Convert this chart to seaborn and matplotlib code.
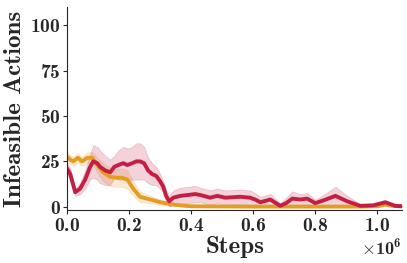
import matplotlib
matplotlib.use("Agg")
import matplotlib.pyplot as plt
import numpy as np
import pandas as pd
import seaborn as sns

# steps in units of 1e6
red_steps = [0.000, 0.010, 0.026, 0.042, 0.058, 0.074, 0.084, 0.097, 0.106, 0.123,
             0.139, 0.152, 0.165, 0.181, 0.194, 0.210, 0.223, 0.235, 0.248, 0.261,
             0.274, 0.287, 0.300, 0.310, 0.319, 0.329, 0.342, 0.365, 0.390, 0.413,
             0.429, 0.461, 0.484, 0.510, 0.558, 0.590, 0.606, 0.623, 0.655, 0.687,
             0.706, 0.726, 0.752, 0.774, 0.800, 0.826, 0.865, 0.903, 0.945, 0.987,
             1.026, 1.058, 1.081]
red_mean = [21, 18, 8, 10, 15, 22, 25, 24, 22, 20,
            19, 22, 23, 24, 23, 24, 25, 25, 24, 20,
            18, 17, 14, 11, 6, 3, 5, 6, 6.5, 7,
            6.5, 5, 6, 5, 5.5, 5, 4, 2.5, 4, 0.5,
            2, 4.5, 4, 4.5, 2, 3.5, 6, 3, 0.5, 0.8,
            2.5, 0.5, 0.3]
red_spread = [3, 3, 2, 3, 5, 7, 9, 9, 9, 8,
              7, 6, 8, 9, 9, 9, 10, 10, 9, 7,
              6, 5, 4, 3, 3, 3, 4, 4.5, 4.5, 4.5,
              4, 4, 4, 4, 4, 4, 3.5, 3, 3, 1.5,
              3, 4, 3, 3, 2, 3, 5, 3, 1, 0.5,
              1, 0.5, 0.5]

orange_steps = [0.000, 0.010, 0.019, 0.035, 0.048, 0.065, 0.081, 0.097, 0.116, 0.139,
                0.158, 0.177, 0.194, 0.213, 0.235, 0.268, 0.300, 0.332, 0.365, 0.397,
                0.450, 0.600, 0.800, 0.950, 1.000, 1.026, 1.050, 1.081]
orange_mean = [27.5, 26, 25, 27, 25, 27, 27, 23, 19, 16.5,
               16, 16, 15, 10, 5.5, 4, 2.5, 1.5, 0.8, 0.3,
               0.2, 0.1, 0.1, 0.1, 0.3, 1.2, 0.5, 0.2]
orange_spread = [2.5, 2.5, 2.5, 2.5, 2.5, 3, 3, 4, 5, 5,
                 5, 5, 5, 4, 3, 2, 1.5, 1, 0.5, 0.3,
                 0.2, 0.2, 0.2, 0.2, 0.3, 0.5, 0.3, 0.2]

RED = "#c41e45"
ORANGE = "#e49d23"

sns.set_style("ticks")
plt.rcParams["font.family"] = "cmb10"
plt.rcParams["mathtext.fontset"] = "cm"
plt.rcParams["axes.formatter.use_mathtext"] = True
plt.rcParams["axes.unicode_minus"] = False

fig, ax = plt.subplots(figsize=(4.07, 2.63), dpi=100)
fig.subplots_adjust(left=0.165, right=0.988, top=0.973, bottom=0.2)

for steps, mean, spread, col in [(orange_steps, orange_mean, orange_spread, ORANGE),
                                 (red_steps, red_mean, red_spread, RED)]:
    df = pd.DataFrame({"Steps": np.array(steps) * 1e6, "val": mean})
    lo = np.array(mean) - np.array(spread)
    hi = np.array(mean) + np.array(spread)
    ax.fill_between(df["Steps"], np.clip(lo, 0, None), hi, color=col, alpha=0.2, lw=0.6)
    sns.lineplot(data=df, x="Steps", y="val", color=col, lw=2.8, ax=ax)

ax.set_xlim(0, 1.08e6)
ax.set_ylim(-2, 110)
ax.set_yticks([0, 25, 50, 75, 100])
ax.set_xticks([0, 0.2e6, 0.4e6, 0.6e6, 0.8e6, 1.0e6])
ax.set_xlabel("Steps", fontsize=18, labelpad=1)
ax.set_ylabel("Infeasible Actions", fontsize=18, labelpad=3)
ax.tick_params(labelsize=14, length=3, pad=1.5)
ax.ticklabel_format(axis="x", style="sci", scilimits=(6, 6))
ax.xaxis.get_offset_text().set_fontsize(13)
sns.despine(ax=ax)

fig.savefig("out.png", dpi=100)
